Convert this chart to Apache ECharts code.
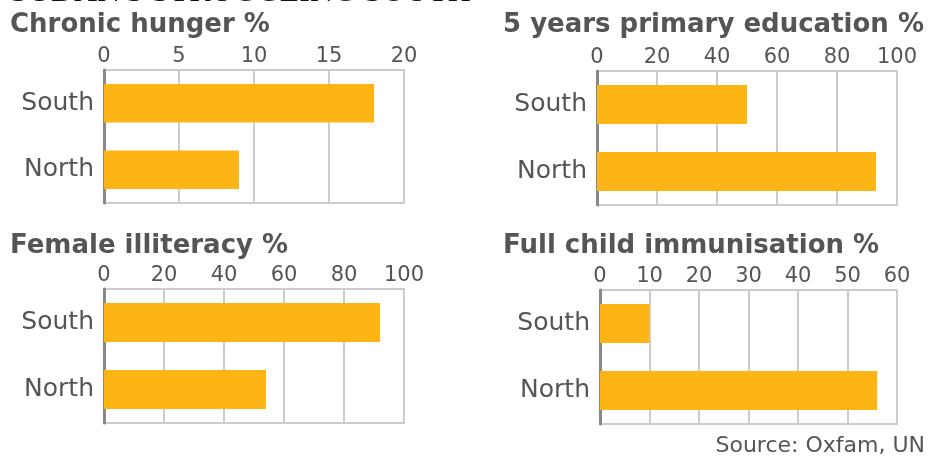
<!DOCTYPE html>
<html>
<head>
<meta charset="utf-8">
<script src="https://cdn.jsdelivr.net/npm/echarts@6/dist/echarts.min.js"></script>
<style>
html,body{margin:0;padding:0;background:#fff;}
#chart{width:929px;height:459px;}
</style>
</head>
<body>
<div id="chart"></div>
<script>
var categories = ['South', 'North'];
var hunger = [18, 9];
var education = [50, 93];
var illiteracy = [92, 54];
var immunisation = [10, 56];
var panelTitles = ['Chronic hunger %', '5 years primary education %', 'Female illiteracy %', 'Full child immunisation %'];
var axisMax = [20, 100, 100, 60];
var axisStep = [5, 20, 20, 10];
var headline = "SUDAN'S STRUGGLING SOUTH";
var sourceText = 'Source: Oxfam, UN';

var panels = [hunger, education, illiteracy, immunisation];
var gridPos = [
  {left: 104, top: 70, width: 300, height: 133},
  {left: 597, top: 71, width: 300, height: 134},
  {left: 104, top: 289, width: 300, height: 134},
  {left: 600, top: 290, width: 297, height: 134}
];
var titlePos = [
  {left: 10, top: 12},
  {left: 503, top: 12},
  {left: 10, top: 233},
  {left: 503, top: 233}
];
var FONT = 'DejaVu Sans, Verdana, sans-serif';
var TXT = '#555';
var BAR = '#FDB515';

var option = {
  animation: false,
  backgroundColor: '#fff',
  title: panelTitles.map(function (t, i) {
    return {
      text: t, left: titlePos[i].left, top: titlePos[i].top, padding: 0,
      textStyle: {fontFamily: FONT, fontWeight: 'bold', fontSize: 26, color: TXT}
    };
  }),
  grid: gridPos.map(function (g) {
    return {left: g.left, top: g.top, width: g.width, height: g.height,
      show: true, borderColor: '#ccc', borderWidth: 2, containLabel: false};
  }),
  xAxis: panels.map(function (p, i) {
    return {
      type: 'value', gridIndex: i, position: 'top', min: 0, max: axisMax[i], interval: axisStep[i],
      axisLine: {show: false}, axisTick: {show: false},
      axisLabel: {fontFamily: FONT, fontSize: 21, color: TXT, margin: 3},
      splitLine: {show: true, lineStyle: {color: '#ccc', width: 2}}
    };
  }),
  yAxis: panels.map(function (p, i) {
    return {
      type: 'category', gridIndex: i, data: categories, inverse: true,
      axisLine: {show: true, lineStyle: {color: '#888', width: 3}},
      axisTick: {show: false},
      axisLabel: {fontFamily: FONT, fontSize: 25, color: TXT, margin: 10, padding: [4, 0, 0, 0]}
    };
  }),
  series: panels.map(function (p, i) {
    return {
      type: 'bar', xAxisIndex: i, yAxisIndex: i, data: p,
      barCategoryGap: '42%',
      itemStyle: {color: BAR},
      silent: true
    };
  }),
  graphic: [
    {type: 'text', left: 10, top: -23, style: {text: headline, font: '32px "Liberation Serif", "DejaVu Serif", serif', fill: '#111'}},
    {type: 'text', right: 4, top: 435, style: {text: sourceText, font: '22px "DejaVu Sans", Verdana, sans-serif', fill: TXT}}
  ]
};
var chart = echarts.init(document.getElementById('chart'), null, {renderer: 'canvas'});
chart.setOption(option);
</script>
</body>
</html>
